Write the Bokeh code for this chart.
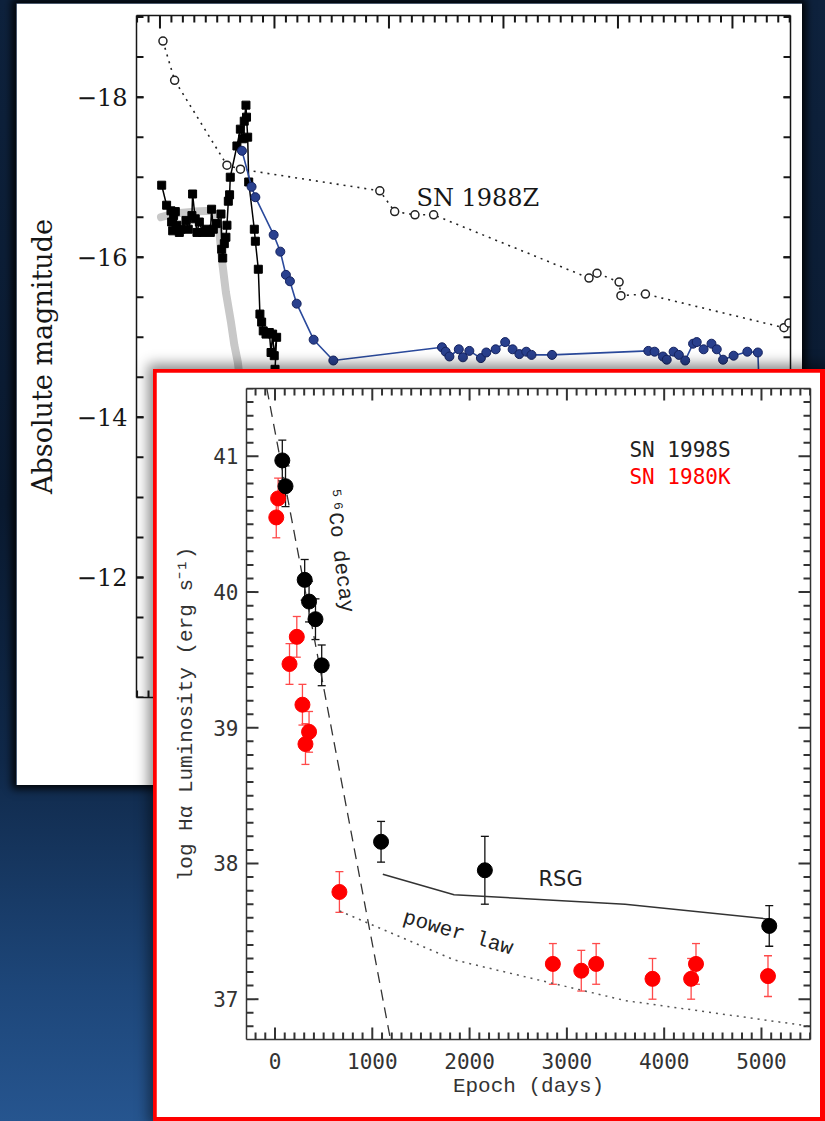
import numpy as np
from bokeh.plotting import figure
from bokeh.models import (Range1d, LinearAxis, FixedTicker, GridBox, Div, Whisker,
                          ColumnDataSource, Label, TeeHead)
from bokeh.embed import file_html
from bokeh.resources import INLINE

# ---------------- back chart (absolute magnitude light curves) ----------------
gray_day = [0.9, 15, 30, 45, 49, 52, 54, 57.6, 62, 65, 68, 71]
gray_mag = [-16.50, -16.55, -16.57, -16.58, -16.52, -16.30, -15.98, -15.56, -15.19, -14.90, -14.69, -14.30]

sn88z_day = [2.6, 12.8, 58.5, 70.3, 192, 205, 222.7, 239, 374.7, 381.7, 401, 402.6, 424, 545, 549.3]
sn88z_mag = [-18.70, -18.21, -17.15, -17.10, -16.83, -16.57, -16.53, -16.53, -15.74, -15.80,
             -15.69, -15.52, -15.54, -15.12, -15.18]

sq_day = [1.5, 5.8, 9.6, 10.2, 11.1, 11.9, 13.4, 14.8, 16.9, 18.3, 22.7, 24.7, 27.9, 28.5, 30.8,
          32.3, 34.4, 37.3, 40.2, 44.0, 45.1, 46.6, 49.2, 53.3, 53.9, 54.8, 56.2, 57.6, 58.5, 59.7,
          60.8, 61.4, 67.2, 70.2, 72.2, 73.6, 75.1, 75.6, 76.6, 77.5, 82.4, 83.3, 85.9, 87.3, 88.8,
          90.2, 92.6, 95.5, 97.0, 98.4, 99.8, 101.9, 100.5, 101.5]
sq_mag = [-16.90, -16.65, -16.58, -16.44, -16.33, -16.52, -16.57, -16.40, -16.31, -16.35, -16.46,
          -16.35, -16.52, -16.79, -16.48, -16.31, -16.44, -16.31, -16.35, -16.31, -16.60, -16.35,
          -16.42, -16.54, -16.10, -15.99, -16.17, -16.25, -16.40, -16.70, -16.78, -17.00, -17.39,
          -17.60, -17.48, -17.70, -17.90, -17.75, -17.50, -16.94, -16.35, -16.20, -15.85, -15.29,
          -15.19, -15.08, -15.04, -15.06, -14.81, -15.04, -14.77, -15.00, -14.60, -14.20]

blue_day = [71.6, 80, 83.3, 99.3, 105.1, 110, 113.5, 119.4, 134.2, 151.4,
            246.3, 249.5, 252.8, 261, 264.6, 270.2, 280.3, 285, 293.2, 301.5, 308, 313.9,
            319.9, 324.5, 342.4, 426.5, 432, 439.3, 442.6, 448.6, 453.2, 458.7, 465.6, 468.8,
            474.8, 481.7, 486.3, 491.8, 501, 513, 522.2, 523]
blue_mag = [-17.33, -16.88, -16.75, -16.28, -16.07, -15.78, -15.70, -15.42, -14.97, -14.71,
            -14.875, -14.82, -14.76, -14.85, -14.75, -14.83, -14.74, -14.81, -14.85, -14.94,
            -14.85, -14.79, -14.82, -14.78, -14.78, -14.83, -14.82, -14.76, -14.72, -14.82,
            -14.78, -14.71, -14.92, -14.94, -14.85, -14.92, -14.85, -14.72, -14.77, -14.82,
            -14.81, -14.50]

back_major_y = [-18, -16, -14, -12]
back_minor_y = [float(v) for v in np.arange(-19.0, -10.4, 0.5)]
back_major_x = [0, 100, 200, 300, 400, 500]
back_minor_x = [v for v in range(-20, 551, 10) if v not in back_major_x]

# ---------------- front chart (log H-alpha luminosity) ----------------
s98_day = [75, 108, 305, 350, 416, 480, 1090, 2157, 5080]
s98_lum = [40.97, 40.78, 40.09, 39.93, 39.80, 39.46, 38.16, 37.95, 37.54]
s98_err = [0.15, 0.15, 0.15, 0.15, 0.15, 0.15, 0.15, 0.25, 0.15]

k80_day = [13, 32, 149, 224, 282, 313, 350, 662, 2856, 3148, 3301, 3880, 4277, 4327, 5067]
k80_lum = [40.55, 40.69, 39.47, 39.67, 39.17, 38.88, 38.97, 37.79, 37.26, 37.21, 37.26,
           37.15, 37.15, 37.26, 37.17]
k80_err = [0.15] * 15

co_day = [-84, 1188]
co_lum = [41.50, 36.70]

rsg_day = [1108, 1840, 3598, 5077]
rsg_lum = [37.92, 37.77, 37.70, 37.59]

pl_day = [664, 1840, 3598, 5504]
pl_lum = [37.65, 37.29, 36.99, 36.80]

front_major_x = [0, 1000, 2000, 3000, 4000, 5000]
front_minor_x = [v for v in range(-200, 5501, 100) if v not in front_major_x]
front_major_y = [37, 38, 39, 40, 41]
front_minor_y = [round(float(v), 1) for v in np.arange(36.8, 41.51, 0.1)
                 if abs(v - round(v)) > 0.01]


def style_axis(ax, font, size, color, labels=True, standoff=8):
    ax.major_tick_in = 0
    ax.major_tick_out = 0
    ax.minor_tick_in = 0
    ax.minor_tick_out = 0
    ax.major_tick_line_color = None
    ax.minor_tick_line_color = None
    ax.axis_line_color = color
    ax.axis_line_width = 1.5
    ax.major_label_text_font = font
    ax.major_label_text_font_size = size
    ax.major_label_text_color = color
    ax.major_label_standoff = standoff
    if not labels:
        ax.major_label_overrides = {t: "" for t in ax.ticker.ticks}
        ax.major_label_standoff = 0


def tick_marks(p, xr, yr, fw, fh, xmaj, xmin, ymaj, ymin, lx, ly, lminor, color):
    """Inward tick marks on all four frame edges, as short segments (length in px)."""
    x0, y0 = [], []
    x1, y1 = [], []
    for vals, ln in ((xmaj, lx), (xmin, lminor)):
        for edge, other in ((yr.start, yr.end), (yr.end, yr.start)):
            d = (other - edge) * ln / fh
            for v in vals:
                x0.append(v); y0.append(edge); x1.append(v); y1.append(edge + d)
    for vals, ln in ((ymaj, ly), (ymin, lminor)):
        for edge, other in ((xr.start, xr.end), (xr.end, xr.start)):
            d = (other - edge) * ln / fw
            for v in vals:
                x0.append(edge); y0.append(v); x1.append(edge + d); y1.append(v)
    p.segment(x0=x0, y0=y0, x1=x1, y1=y1, line_color=color, line_width=2)


# ---------- back figure ----------
bxr = Range1d(-20.5, 550.7)
byr = Range1d(-10.50, -19.02)
BFW, BFH = 654, 682
back = figure(width=786, height=782, output_backend="svg", toolbar_location=None,
              x_range=bxr, y_range=byr, x_axis_location=None, y_axis_location=None,
              min_border_left=120, min_border_right=786 - 120 - BFW,
              min_border_top=12, min_border_bottom=782 - 12 - BFH)
back.grid.visible = False
back.outline_line_color = None
back.background_fill_color = "white"
back.border_fill_color = "white"

bc = "#161616"
ax = LinearAxis(ticker=FixedTicker(ticks=back_major_y), axis_label="Absolute magnitude")
style_axis(ax, "DejaVu Serif", "24px", bc, standoff=9)
ax.major_label_overrides = {v: "\u2212" + str(abs(v)) for v in back_major_y}
ax.axis_label_text_font = "DejaVu Serif"
ax.axis_label_text_font_size = "27px"
ax.axis_label_text_font_style = "normal"
ax.axis_label_text_color = bc
ax.axis_label_standoff = 16
back.add_layout(ax, "left")

ax = LinearAxis(ticker=FixedTicker(ticks=back_major_y))
style_axis(ax, "DejaVu Serif", "24px", bc, labels=False)
back.add_layout(ax, "right")
for loc in ("above", "below"):
    ax = LinearAxis(ticker=FixedTicker(ticks=back_major_x))
    style_axis(ax, "DejaVu Serif", "24px", bc, labels=False)
    back.add_layout(ax, loc)

tick_marks(back, bxr, byr, BFW, BFH, back_major_x, back_minor_x, back_major_y, back_minor_y,
           13, 7, 7, bc)

back.line(gray_day, gray_mag, line_color="#c8c8c8", line_width=8, line_cap="round", line_join="round")
back.line(sn88z_day, sn88z_mag, line_color="#222222", line_width=1.6, line_dash="2 5")
back.scatter(sn88z_day, sn88z_mag, marker="circle", size=8, fill_color="white",
             line_color="#222222", line_width=1.5)
back.line(sq_day, sq_mag, line_color="black", line_width=1.5)
back.scatter(sq_day, sq_mag, marker="square", size=8, fill_color="black", line_color="black")
back.line(blue_day, blue_mag, line_color="#2b4a9c", line_width=1.6)
back.scatter(blue_day, blue_mag, marker="circle", size=9, fill_color="#29408e",
             line_color="#152360", line_width=1)

back.add_layout(Label(x=224, y=-16.74, text="SN 1988Z", text_font="DejaVu Serif",
                      text_font_size="24px", text_color=bc, text_baseline="alphabetic"))

# ---------- front figure ----------
fxr = Range1d(-293, 5504)
fyr = Range1d(36.703, 41.50)
FFW, FFH = 564, 651
front = figure(width=664, height=745, output_backend="svg", toolbar_location=None,
               x_range=fxr, y_range=fyr, x_axis_location=None, y_axis_location=None,
               min_border_left=90, min_border_right=664 - 90 - FFW,
               min_border_top=16, min_border_bottom=745 - 16 - FFH)
front.grid.visible = False
front.outline_line_color = None
front.background_fill_color = "white"
front.border_fill_color = "white"

axc = "#333333"
ax = LinearAxis(ticker=FixedTicker(ticks=front_major_y),
                axis_label="log H\u03b1 Luminosity (erg s\u207b\u00b9)")
style_axis(ax, "DejaVu Sans Mono", "21px", axc, standoff=8)
ax.axis_label_text_font = "Liberation Mono"
ax.axis_label_text_font_size = "21px"
ax.axis_label_text_font_style = "normal"
ax.axis_label_text_color = axc
ax.axis_label_standoff = 12
front.add_layout(ax, "left")

ax = LinearAxis(ticker=FixedTicker(ticks=front_major_x), axis_label="Epoch (days)")
style_axis(ax, "DejaVu Sans Mono", "21px", axc, standoff=13)
ax.axis_label_text_font = "Liberation Mono"
ax.axis_label_text_font_size = "21px"
ax.axis_label_text_font_style = "normal"
ax.axis_label_text_color = axc
ax.axis_label_standoff = 3
front.add_layout(ax, "below")

ax = LinearAxis(ticker=FixedTicker(ticks=front_major_y))
style_axis(ax, "DejaVu Sans Mono", "21px", axc, labels=False)
front.add_layout(ax, "right")
ax = LinearAxis(ticker=FixedTicker(ticks=front_major_x))
style_axis(ax, "DejaVu Sans Mono", "21px", axc, labels=False)
front.add_layout(ax, "above")

tick_marks(front, fxr, fyr, FFW, FFH, front_major_x, front_minor_x, front_major_y, front_minor_y,
           12, 12, 7, axc)

front.line(co_day, co_lum, line_color="#333333", line_width=1.3, line_dash="11 7")
front.line(pl_day, pl_lum, line_color="#555555", line_width=1.5, line_dash="2 5")
front.line(rsg_day, rsg_lum, line_color="#333333", line_width=1.5)

src98 = ColumnDataSource(dict(x=s98_day, y=s98_lum,
                              lo=[a - b for a, b in zip(s98_lum, s98_err)],
                              hi=[a + b for a, b in zip(s98_lum, s98_err)]))
src80 = ColumnDataSource(dict(x=k80_day, y=k80_lum,
                              lo=[a - b for a, b in zip(k80_lum, k80_err)],
                              hi=[a + b for a, b in zip(k80_lum, k80_err)]))

for src, col in ((src80, "#ff4a4a"), (src98, "#111111")):
    front.add_layout(Whisker(source=src, base="x", upper="hi", lower="lo", dimension="height",
                             line_color=col, line_width=1.3,
                             upper_head=TeeHead(size=8, line_color=col, line_width=1.3),
                             lower_head=TeeHead(size=8, line_color=col, line_width=1.3)))

front.scatter("x", "y", source=src80, marker="circle", size=15, fill_color="#ff0000", line_color="#ff0000")
front.scatter("x", "y", source=src98, marker="circle", size=15, fill_color="black", line_color="black")

front.add_layout(Label(x=3643, y=41.044, text="SN 1998S", text_font="DejaVu Sans Mono",
                       text_font_size="21px", text_color="#222222", text_baseline="middle"))
front.add_layout(Label(x=3643, y=40.845, text="SN 1980K", text_font="DejaVu Sans Mono",
                       text_font_size="21px", text_color="#ff0000", text_baseline="middle"))
front.add_layout(Label(x=2708, y=37.888, text="RSG", text_font="DejaVu Sans",
                       text_font_size="21px", text_color="#222222", text_baseline="middle"))
front.add_layout(Label(x=1881, y=37.486, text="power law", text_font="Liberation Mono",
                       text_font_size="21px", text_color="#222222", text_baseline="middle",
                       text_align="center", angle=-0.286))
front.add_layout(Label(x=658, y=40.31, text="\u2075\u2076Co decay", text_font="Liberation Mono",
                       text_font_size="21px", text_color="#222222", text_baseline="middle",
                       text_align="center", angle=-1.449))

red_box = Div(text="", width=677, height=757,
              styles={"background-color": "#ff0000",
                      "box-shadow": "-3px -3px 12px 2px rgba(0,0,0,0.45)"})
back.styles = {"box-shadow": "0 0 8px 4px rgba(0,0,0,0.9)"}

root = GridBox(children=[(back, 1, 1, 3, 3), (red_box, 2, 2, 4, 4), (front, 3, 3, 2, 2)],
               cols=["16px", "132px", "8px", "646px", "18px", "5px"],
               rows=["3px", "361px", "8px", "413px", "332px", "4px"],
               spacing=0, width=825, height=1121,
               styles={"background": "linear-gradient(180deg, #0e223d 0%, #0a1a30 45%, #10294a 68%, #1d4679 88%, #26558f 100%)",
                       "overflow": "hidden"})

open("out.html", "w").write(file_html(root, INLINE))
